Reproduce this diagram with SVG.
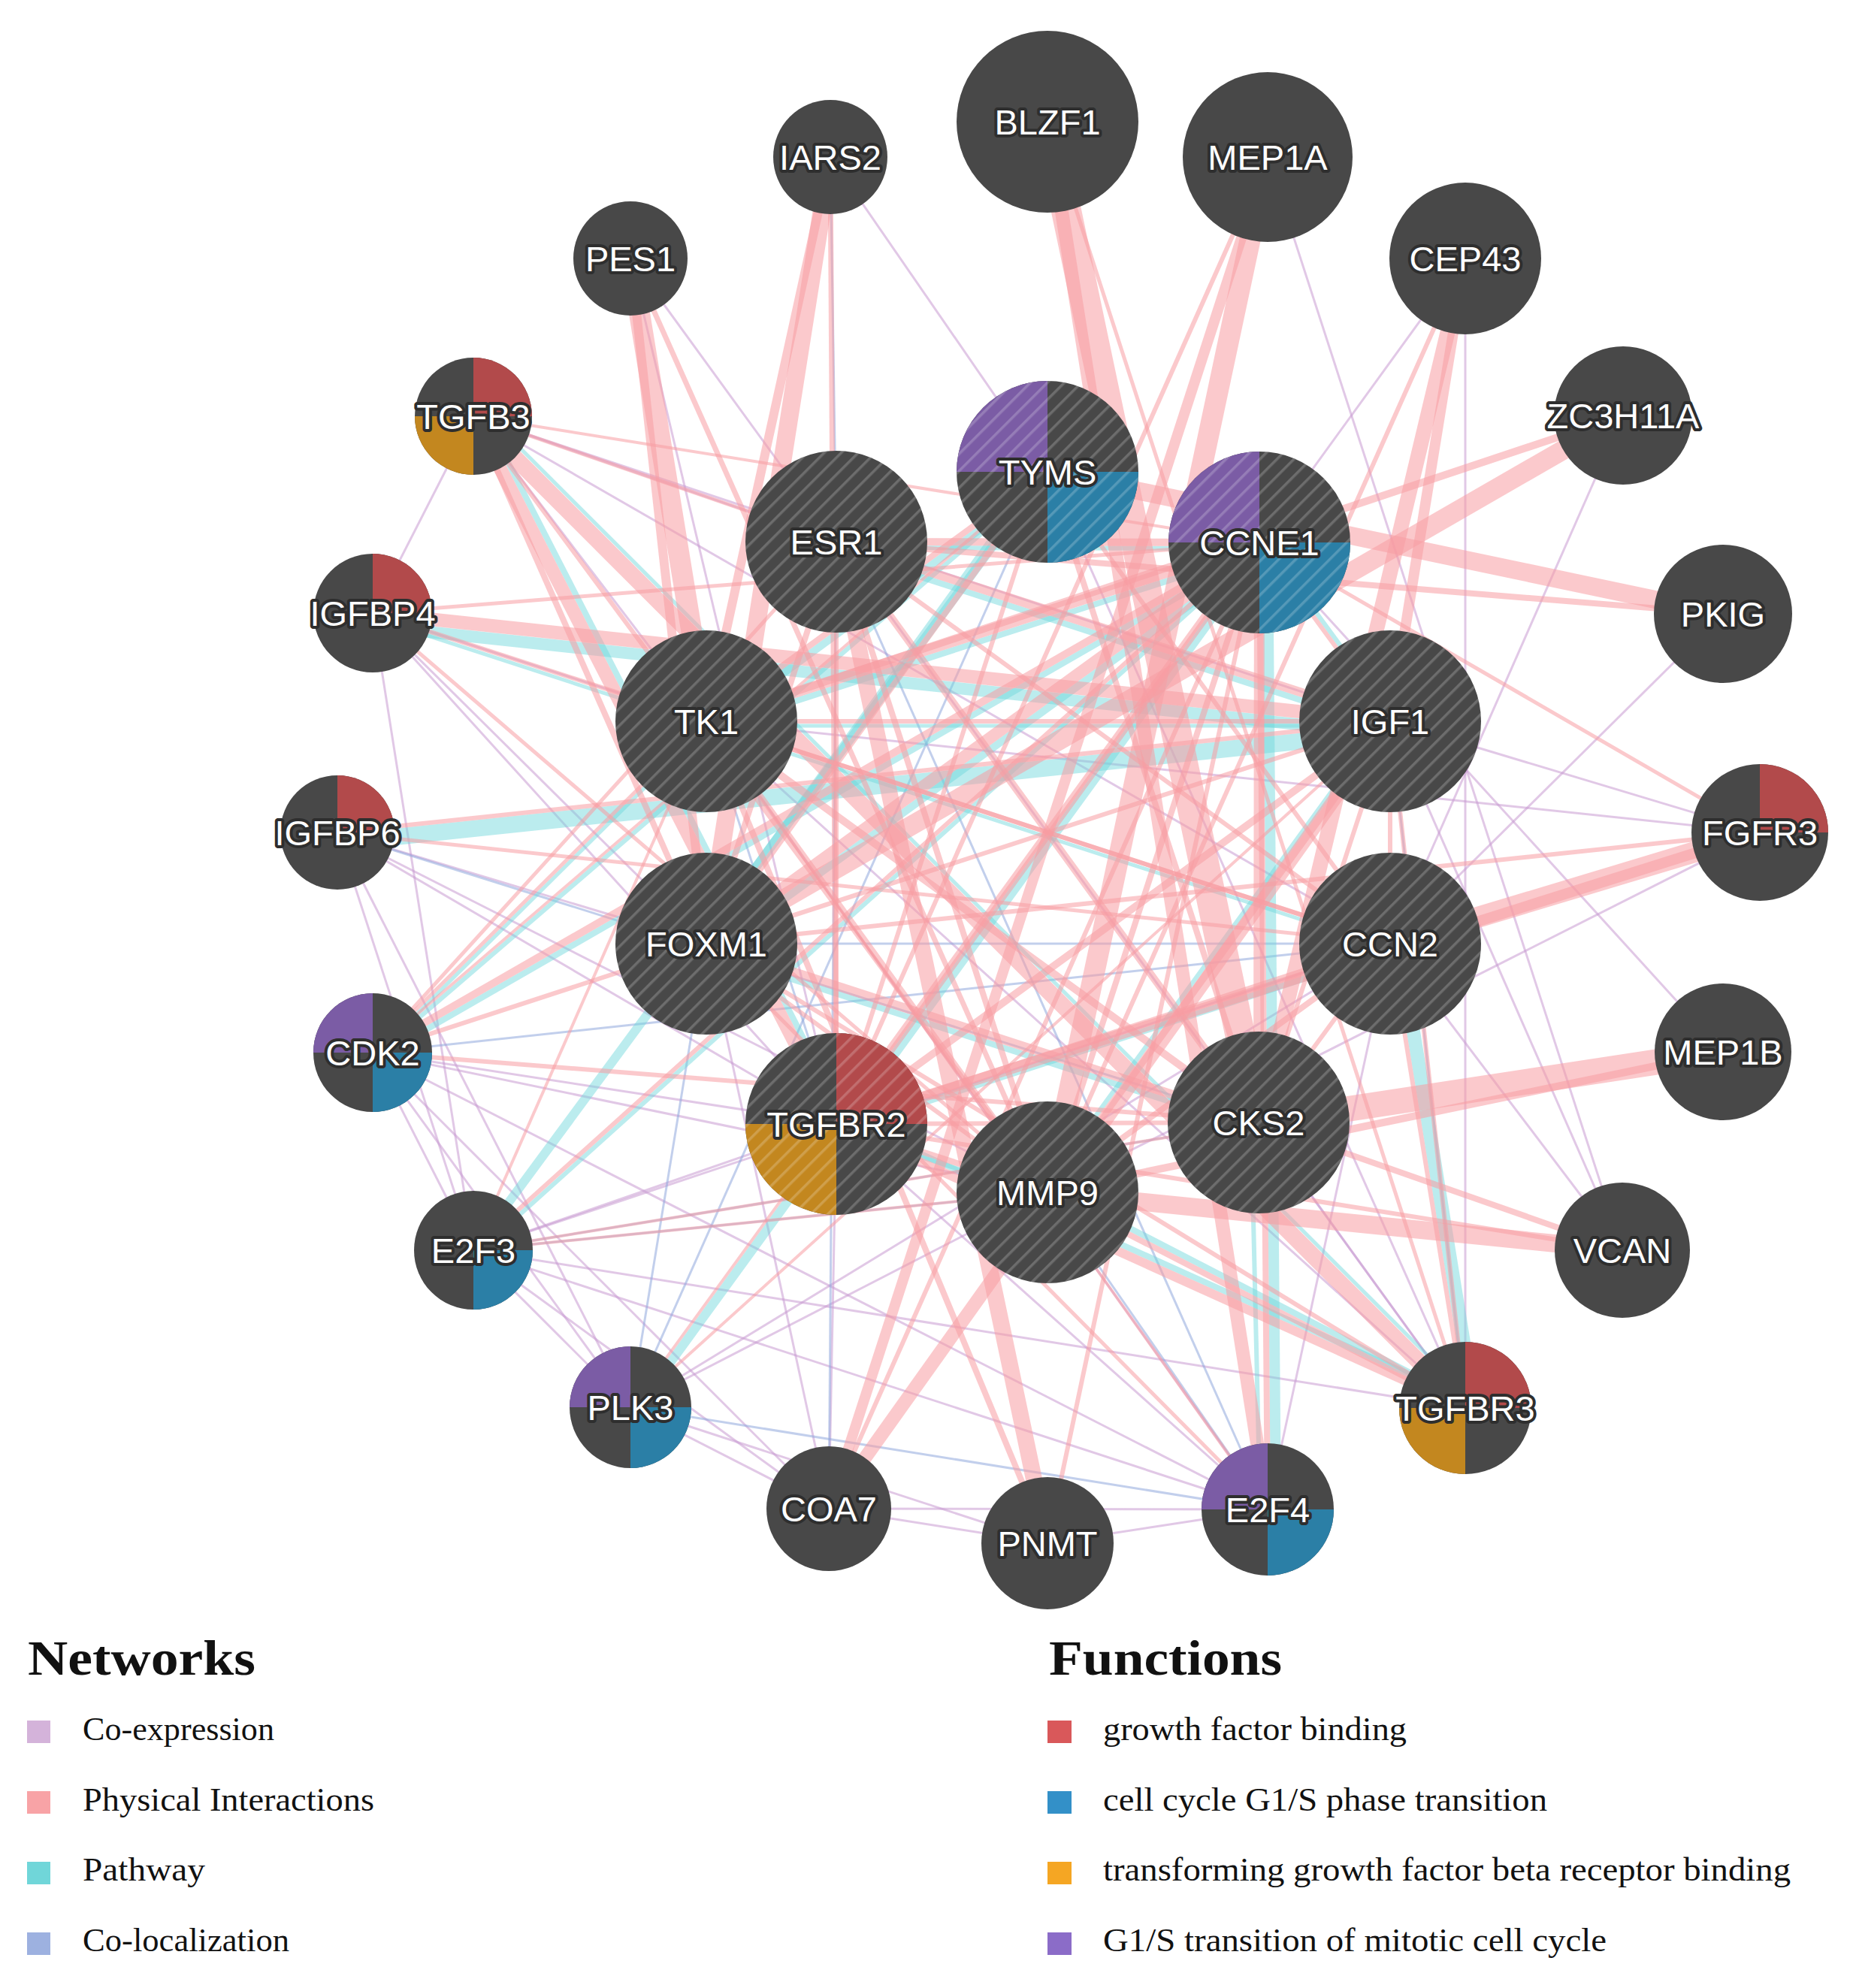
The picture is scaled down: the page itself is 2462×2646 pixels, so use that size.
<svg xmlns="http://www.w3.org/2000/svg" width="2462" height="2646" viewBox="0 0 2462 2646">
<defs>
<pattern id="hatch" patternUnits="userSpaceOnUse" width="16" height="16" patternTransform="rotate(45)">
<rect x="0" y="0" width="3.5" height="16" fill="#ffffff" fill-opacity="0.2"/>
</pattern>
<style>
.p{stroke:#f79ca3;stroke-opacity:0.55;fill:none}
.w{stroke:#6fd6db;stroke-opacity:0.47;fill:none}
.c{stroke:#c99bd2;stroke-opacity:0.55;stroke-width:3;fill:none}
.l{stroke:#8fa7dc;stroke-opacity:0.55;stroke-width:3;fill:none}
.n{fill:#484848}
.h{fill:url(#hatch)}
.pu{fill:#7b5ca5}.bl{fill:#2b7fa6}.rd{fill:#b24a4b}.gd{fill:#c3871f}
.lb{font-family:"Liberation Sans",Arial,Helvetica,sans-serif;font-size:47px;fill:#ffffff;stroke:#2e2e2e;stroke-width:8px;stroke-linejoin:round;paint-order:stroke;text-anchor:middle}
.hd{font-family:"Liberation Serif","Times New Roman",serif;font-weight:bold;font-size:66px;fill:#111111}
.it{font-family:"Liberation Serif","Times New Roman",serif;font-size:45px;fill:#111111}
</style>
</defs>
<rect x="0" y="0" width="2462" height="2646" fill="#ffffff"/>
<g id="connectors">
<g id="coexpression">
<line class="c" x1="1105" y1="209" x2="1394" y2="628"/>
<line class="c" x1="630" y1="554" x2="496" y2="816"/>
<line class="c" x1="630" y1="554" x2="1113" y2="721"/>
<line class="c" x1="630" y1="554" x2="940" y2="960"/>
<line class="c" x1="630" y1="554" x2="1850" y2="1256"/>
<line class="c" x1="630" y1="554" x2="1850" y2="960"/>
<line class="c" x1="496" y1="816" x2="940" y2="960"/>
<line class="c" x1="496" y1="816" x2="940" y2="1256"/>
<line class="c" x1="496" y1="816" x2="1113" y2="1496"/>
<line class="c" x1="496" y1="816" x2="630" y2="1664"/>
<line class="c" x1="449" y1="1108" x2="940" y2="1256"/>
<line class="c" x1="449" y1="1108" x2="1113" y2="1496"/>
<line class="c" x1="449" y1="1108" x2="1394" y2="1587"/>
<line class="c" x1="449" y1="1108" x2="630" y2="1664"/>
<line class="c" x1="449" y1="1108" x2="839" y2="1873"/>
<line class="c" x1="496" y1="1401" x2="630" y2="1664"/>
<line class="c" x1="496" y1="1401" x2="839" y2="1873"/>
<line class="c" x1="496" y1="1401" x2="1103" y2="2008"/>
<line class="c" x1="496" y1="1401" x2="1394" y2="1587"/>
<line class="c" x1="496" y1="1401" x2="1113" y2="1496"/>
<line class="c" x1="496" y1="1401" x2="1687" y2="2009"/>
<line class="c" x1="630" y1="1664" x2="839" y2="1873"/>
<line class="c" x1="630" y1="1664" x2="1113" y2="1496"/>
<line class="c" x1="630" y1="1664" x2="1850" y2="1256"/>
<line class="c" x1="630" y1="1664" x2="1687" y2="2009"/>
<line class="c" x1="630" y1="1664" x2="1103" y2="2008"/>
<line class="c" x1="839" y1="1873" x2="1103" y2="2008"/>
<line class="c" x1="839" y1="1873" x2="1394" y2="2054"/>
<line class="c" x1="839" y1="1873" x2="1394" y2="1587"/>
<line class="c" x1="839" y1="1873" x2="1850" y2="1256"/>
<line class="c" x1="1103" y1="2008" x2="1113" y2="1496"/>
<line class="c" x1="1103" y1="2008" x2="1394" y2="2054"/>
<line class="c" x1="1103" y1="2008" x2="940" y2="1256"/>
<line class="c" x1="1103" y1="2008" x2="1687" y2="2009"/>
<line class="c" x1="1394" y1="2054" x2="1687" y2="2009"/>
<line class="c" x1="1687" y1="2009" x2="940" y2="960"/>
<line class="c" x1="1687" y1="2009" x2="1850" y2="1256"/>
<line class="c" x1="1687" y1="2009" x2="1113" y2="1496"/>
<line class="c" x1="1950" y1="1874" x2="1675" y2="1494"/>
<line class="c" x1="1950" y1="1874" x2="1113" y2="721"/>
<line class="c" x1="1950" y1="1874" x2="940" y2="960"/>
<line class="c" x1="1950" y1="1874" x2="1394" y2="628"/>
<line class="c" x1="1950" y1="1874" x2="630" y2="1664"/>
<line class="c" x1="2159" y1="1664" x2="1850" y2="1256"/>
<line class="c" x1="2159" y1="1664" x2="1850" y2="960"/>
<line class="c" x1="2159" y1="1664" x2="1687" y2="209"/>
<line class="c" x1="2293" y1="1400" x2="1676" y2="722"/>
<line class="c" x1="2342" y1="1108" x2="1850" y2="960"/>
<line class="c" x1="2342" y1="1108" x2="940" y2="960"/>
<line class="c" x1="2342" y1="1108" x2="1394" y2="1587"/>
<line class="c" x1="2293" y1="817" x2="1850" y2="1256"/>
<line class="c" x1="1950" y1="344" x2="1950" y2="1874"/>
<line class="c" x1="1950" y1="344" x2="1676" y2="722"/>
<line class="c" x1="2160" y1="553" x2="1850" y2="1256"/>
<line class="c" x1="839" y1="344" x2="1113" y2="1496"/>
<line class="c" x1="839" y1="344" x2="1113" y2="721"/>
</g>
<g id="colocalization">
<line class="l" x1="1105" y1="209" x2="1113" y2="721"/>
<line class="l" x1="940" y1="960" x2="1113" y2="1496"/>
<line class="l" x1="1113" y1="721" x2="1103" y2="2008"/>
<line class="l" x1="940" y1="1256" x2="839" y2="1873"/>
<line class="l" x1="1394" y1="1587" x2="1687" y2="2009"/>
<line class="l" x1="1394" y1="628" x2="839" y2="1873"/>
<line class="l" x1="630" y1="1664" x2="1394" y2="1587"/>
<line class="l" x1="1113" y1="721" x2="1687" y2="2009"/>
<line class="l" x1="839" y1="1873" x2="1687" y2="2009"/>
<line class="l" x1="1675" y1="1494" x2="630" y2="1664"/>
<line class="l" x1="496" y1="1401" x2="1850" y2="1256"/>
<line class="l" x1="449" y1="1108" x2="1675" y2="1494"/>
<line class="l" x1="940" y1="1256" x2="1850" y2="1256"/>
<line class="l" x1="1850" y1="960" x2="1950" y2="1874"/>
</g>
<g id="pathway">
<line class="w" stroke-width="22" transform="translate(1.5,14)" x1="449" y1="1108" x2="1850" y2="960"/>
<line class="w" stroke-width="16" transform="translate(-1.8,17)" x1="496" y1="816" x2="1850" y2="960"/>
<line class="w" stroke-width="5" transform="translate(-1.9,5.7)" x1="496" y1="816" x2="1850" y2="1256"/>
<line class="w" stroke-width="8" transform="translate(11.6,-5.9)" x1="630" y1="554" x2="1113" y2="1496"/>
<line class="w" stroke-width="5" transform="translate(9.9,-9.9)" x1="630" y1="554" x2="1950" y2="1874"/>
<line class="w" stroke-width="18" transform="translate(11.8,-1.9)" x1="1950" y1="1874" x2="1850" y2="1256"/>
<line class="w" stroke-width="8" transform="translate(4.1,-9.1)" x1="1950" y1="1874" x2="1113" y2="1496"/>
<line class="w" stroke-width="8" transform="translate(3.7,-7.1)" x1="1950" y1="1874" x2="1394" y2="1587"/>
<line class="w" stroke-width="14" transform="translate(11,0)" x1="1687" y1="2009" x2="1676" y2="722"/>
<line class="w" stroke-width="6" transform="translate(-10,0)" x1="1687" y1="2009" x2="1675" y2="1494"/>
<line class="w" stroke-width="12" transform="translate(6.5,4.7)" x1="839" y1="1873" x2="1676" y2="722"/>
<line class="w" stroke-width="12" x1="630" y1="1664" x2="1394" y2="628"/>
<line class="w" stroke-width="6" transform="translate(4,4.5)" x1="630" y1="1664" x2="1676" y2="722"/>
<line class="w" stroke-width="8" transform="translate(4.5,7.8)" x1="496" y1="1401" x2="1676" y2="722"/>
<line class="w" stroke-width="6" transform="translate(3.3,3.8)" x1="496" y1="1401" x2="1394" y2="628"/>
<line class="w" stroke-width="5" transform="translate(3.5,3.5)" x1="496" y1="1401" x2="940" y2="960"/>
<line class="w" stroke-width="10" transform="translate(5.3,7.3)" x1="940" y1="960" x2="1394" y2="628"/>
<line class="w" stroke-width="8" transform="translate(3.4,10.5)" x1="940" y1="960" x2="1676" y2="722"/>
<line class="w" stroke-width="10" transform="translate(7.6,10.5)" x1="940" y1="1256" x2="1676" y2="722"/>
<line class="w" stroke-width="8" transform="translate(-3.1,9.5)" x1="940" y1="1256" x2="1675" y2="1494"/>
<line class="w" stroke-width="6" transform="translate(0,8)" x1="1113" y1="721" x2="1676" y2="722"/>
<line class="w" stroke-width="8" transform="translate(-3.1,9.5)" x1="1113" y1="721" x2="1850" y2="960"/>
<line class="w" stroke-width="6" transform="translate(4.8,-3.5)" x1="1850" y1="960" x2="1676" y2="722"/>
<line class="w" stroke-width="6" transform="translate(-6.5,-4.7)" x1="1850" y1="960" x2="1394" y2="1587"/>
<line class="w" stroke-width="8" transform="translate(2.8,8.6)" x1="1113" y1="1496" x2="1850" y2="1256"/>
<line class="w" stroke-width="6" transform="translate(-2.2,6.7)" x1="1113" y1="1496" x2="1394" y2="1587"/>
<line class="w" stroke-width="8" transform="translate(-6.5,-4.7)" x1="1394" y1="628" x2="940" y2="1256"/>
<line class="w" stroke-width="5" transform="translate(0,6)" x1="940" y1="960" x2="1850" y2="960"/>
</g>
<g id="physical">
<line class="p" stroke-width="40" x1="1394" y1="162" x2="1675" y2="1494"/>
<line class="p" stroke-width="18" x1="1394" y1="162" x2="1687" y2="2009"/>
<line class="p" stroke-width="5" x1="1394" y1="162" x2="1950" y2="1874"/>
<line class="p" stroke-width="28" x1="1687" y1="209" x2="1394" y2="1587"/>
<line class="p" stroke-width="14" x1="1687" y1="209" x2="1103" y2="2008"/>
<line class="p" stroke-width="6" x1="1687" y1="209" x2="1113" y2="1496"/>
<line class="p" stroke-width="24" x1="1105" y1="209" x2="940" y2="1256"/>
<line class="p" stroke-width="12" x1="1105" y1="209" x2="940" y2="960"/>
<line class="p" stroke-width="7" x1="1105" y1="209" x2="1113" y2="1496"/>
<line class="p" stroke-width="28" x1="839" y1="344" x2="940" y2="960"/>
<line class="p" stroke-width="12" x1="839" y1="344" x2="940" y2="1256"/>
<line class="p" stroke-width="7" x1="839" y1="344" x2="1394" y2="1587"/>
<line class="p" stroke-width="20" x1="1950" y1="344" x2="1675" y2="1494"/>
<line class="p" stroke-width="14" x1="1950" y1="344" x2="1850" y2="960"/>
<line class="p" stroke-width="6" x1="1950" y1="344" x2="1394" y2="1587"/>
<line class="p" stroke-width="26" x1="2160" y1="553" x2="940" y2="1256"/>
<line class="p" stroke-width="10" x1="2160" y1="553" x2="940" y2="960"/>
<line class="p" stroke-width="24" x1="2293" y1="817" x2="1394" y2="628"/>
<line class="p" stroke-width="8" x1="2293" y1="817" x2="1113" y2="721"/>
<line class="p" stroke-width="28" x1="2342" y1="1108" x2="1850" y2="1256"/>
<line class="p" stroke-width="14" x1="2342" y1="1108" x2="1113" y2="1496"/>
<line class="p" stroke-width="6" x1="2342" y1="1108" x2="940" y2="1256"/>
<line class="p" stroke-width="5" x1="2342" y1="1108" x2="1676" y2="722"/>
<line class="p" stroke-width="34" x1="2293" y1="1400" x2="1675" y2="1494"/>
<line class="p" stroke-width="10" x1="2293" y1="1400" x2="1394" y2="1587"/>
<line class="p" stroke-width="24" x1="2159" y1="1664" x2="1394" y2="1587"/>
<line class="p" stroke-width="8" x1="2159" y1="1664" x2="1675" y2="1494"/>
<line class="p" stroke-width="6" x1="2159" y1="1664" x2="1113" y2="1496"/>
<line class="p" stroke-width="22" x1="630" y1="554" x2="1950" y2="1874"/>
<line class="p" stroke-width="18" x1="630" y1="554" x2="1113" y2="1496"/>
<line class="p" stroke-width="8" x1="630" y1="554" x2="940" y2="1256"/>
<line class="p" stroke-width="6" x1="630" y1="554" x2="1394" y2="1587"/>
<line class="p" stroke-width="5" x1="630" y1="554" x2="1113" y2="721"/>
<line class="p" stroke-width="4" x1="630" y1="554" x2="1676" y2="722"/>
<line class="p" stroke-width="18" x1="496" y1="816" x2="1850" y2="960"/>
<line class="p" stroke-width="6" x1="496" y1="816" x2="1850" y2="1256"/>
<line class="p" stroke-width="5" x1="496" y1="816" x2="1676" y2="722"/>
<line class="p" stroke-width="5" x1="496" y1="816" x2="1394" y2="1587"/>
<line class="p" stroke-width="6" x1="449" y1="1108" x2="1850" y2="960"/>
<line class="p" stroke-width="5" x1="449" y1="1108" x2="1850" y2="1256"/>
<line class="p" stroke-width="10" x1="496" y1="1401" x2="1676" y2="722"/>
<line class="p" stroke-width="6" x1="496" y1="1401" x2="1675" y2="1494"/>
<line class="p" stroke-width="5" x1="496" y1="1401" x2="940" y2="960"/>
<line class="p" stroke-width="6" x1="496" y1="1401" x2="940" y2="1256"/>
<line class="p" stroke-width="5" x1="496" y1="1401" x2="1113" y2="721"/>
<line class="p" stroke-width="4" x1="496" y1="1401" x2="1394" y2="628"/>
<line class="p" stroke-width="6" x1="630" y1="1664" x2="1676" y2="722"/>
<line class="p" stroke-width="4" x1="630" y1="1664" x2="940" y2="960"/>
<line class="p" stroke-width="4" x1="630" y1="1664" x2="1675" y2="1494"/>
<line class="p" stroke-width="4" x1="630" y1="1664" x2="1394" y2="1587"/>
<line class="p" stroke-width="4" x1="839" y1="1873" x2="1676" y2="722"/>
<line class="p" stroke-width="4" x1="839" y1="1873" x2="1850" y2="960"/>
<line class="p" stroke-width="18" x1="1103" y1="2008" x2="1850" y2="960"/>
<line class="p" stroke-width="6" x1="1103" y1="2008" x2="1676" y2="722"/>
<line class="p" stroke-width="22" x1="1394" y1="2054" x2="1113" y2="721"/>
<line class="p" stroke-width="8" x1="1394" y1="2054" x2="940" y2="960"/>
<line class="p" stroke-width="6" x1="1394" y1="2054" x2="1676" y2="722"/>
<line class="p" stroke-width="8" x1="1687" y1="2009" x2="1676" y2="722"/>
<line class="p" stroke-width="5" x1="1687" y1="2009" x2="940" y2="1256"/>
<line class="p" stroke-width="4" x1="1687" y1="2009" x2="940" y2="960"/>
<line class="p" stroke-width="12" x1="1950" y1="1874" x2="1113" y2="1496"/>
<line class="p" stroke-width="8" x1="1950" y1="1874" x2="1394" y2="1587"/>
<line class="p" stroke-width="6" x1="1950" y1="1874" x2="940" y2="1256"/>
<line class="p" stroke-width="6" x1="1950" y1="1874" x2="1850" y2="960"/>
<line class="p" stroke-width="6" x1="1950" y1="1874" x2="1850" y2="1256"/>
<line class="p" stroke-width="14" x1="940" y1="960" x2="1676" y2="722"/>
<line class="p" stroke-width="10" x1="940" y1="960" x2="1675" y2="1494"/>
<line class="p" stroke-width="8" x1="940" y1="960" x2="1394" y2="628"/>
<line class="p" stroke-width="8" x1="940" y1="960" x2="1394" y2="1587"/>
<line class="p" stroke-width="6" x1="940" y1="960" x2="1850" y2="960"/>
<line class="p" stroke-width="6" x1="940" y1="960" x2="1850" y2="1256"/>
<line class="p" stroke-width="16" x1="940" y1="1256" x2="1676" y2="722"/>
<line class="p" stroke-width="12" x1="940" y1="1256" x2="1675" y2="1494"/>
<line class="p" stroke-width="8" x1="940" y1="1256" x2="1394" y2="628"/>
<line class="p" stroke-width="8" x1="940" y1="1256" x2="1113" y2="721"/>
<line class="p" stroke-width="6" x1="940" y1="1256" x2="1850" y2="960"/>
<line class="p" stroke-width="6" x1="940" y1="1256" x2="1394" y2="1587"/>
<line class="p" stroke-width="10" x1="1113" y1="721" x2="1676" y2="722"/>
<line class="p" stroke-width="12" x1="1113" y1="721" x2="1850" y2="960"/>
<line class="p" stroke-width="10" x1="1113" y1="721" x2="1675" y2="1494"/>
<line class="p" stroke-width="8" x1="1113" y1="721" x2="1394" y2="1587"/>
<line class="p" stroke-width="6" x1="1113" y1="721" x2="1850" y2="1256"/>
<line class="p" stroke-width="6" x1="1113" y1="721" x2="1113" y2="1496"/>
<line class="p" stroke-width="8" x1="1394" y1="628" x2="1675" y2="1494"/>
<line class="p" stroke-width="6" x1="1394" y1="628" x2="1850" y2="1256"/>
<line class="p" stroke-width="6" x1="1394" y1="628" x2="1113" y2="1496"/>
<line class="p" stroke-width="14" x1="1676" y1="722" x2="1675" y2="1494"/>
<line class="p" stroke-width="12" x1="1676" y1="722" x2="1113" y2="1496"/>
<line class="p" stroke-width="8" x1="1676" y1="722" x2="1394" y2="1587"/>
<line class="p" stroke-width="6" x1="1676" y1="722" x2="1850" y2="960"/>
<line class="p" stroke-width="10" x1="1850" y1="960" x2="1394" y2="1587"/>
<line class="p" stroke-width="10" x1="1850" y1="960" x2="1113" y2="1496"/>
<line class="p" stroke-width="6" x1="1850" y1="960" x2="1675" y2="1494"/>
<line class="p" stroke-width="6" x1="1850" y1="960" x2="1850" y2="1256"/>
<line class="p" stroke-width="8" x1="1850" y1="1256" x2="1394" y2="1587"/>
<line class="p" stroke-width="10" x1="1850" y1="1256" x2="1113" y2="1496"/>
<line class="p" stroke-width="6" x1="1850" y1="1256" x2="1675" y2="1494"/>
<line class="p" stroke-width="8" x1="1113" y1="1496" x2="1394" y2="1587"/>
<line class="p" stroke-width="6" x1="1113" y1="1496" x2="1675" y2="1494"/>
</g>
</g>
<g id="nodes">
<g id="node-BLZF1"><circle class="n" cx="1394" cy="162" r="121"/><text class="lb" x="1394" y="179">BLZF1</text></g>
<g id="node-MEP1A"><circle class="n" cx="1687" cy="209" r="113"/><text class="lb" x="1687" y="226">MEP1A</text></g>
<g id="node-CEP43"><circle class="n" cx="1950" cy="344" r="101"/><text class="lb" x="1950" y="361">CEP43</text></g>
<g id="node-ZC3H11A"><circle class="n" cx="2160" cy="553" r="92"/><text class="lb" x="2160" y="570">ZC3H11A</text></g>
<g id="node-PKIG"><circle class="n" cx="2293" cy="817" r="92"/><text class="lb" x="2293" y="834">PKIG</text></g>
<g id="node-FGFR3"><circle class="n" cx="2342" cy="1108" r="91"/><path class="rd" d="M2342 1108 V1017 A91 91 0 0 1 2433 1108 Z"/><text class="lb" x="2342" y="1125">FGFR3</text></g>
<g id="node-MEP1B"><circle class="n" cx="2293" cy="1400" r="91"/><text class="lb" x="2293" y="1417">MEP1B</text></g>
<g id="node-VCAN"><circle class="n" cx="2159" cy="1664" r="90"/><text class="lb" x="2159" y="1681">VCAN</text></g>
<g id="node-TGFBR3"><circle class="n" cx="1950" cy="1874" r="88"/><path class="rd" d="M1950 1874 V1786 A88 88 0 0 1 2038 1874 Z"/><path class="gd" d="M1950 1874 V1962 A88 88 0 0 1 1862 1874 Z"/><text class="lb" x="1950" y="1891">TGFBR3</text></g>
<g id="node-E2F4"><circle class="n" cx="1687" cy="2009" r="88"/><path class="pu" d="M1687 2009 H1599 A88 88 0 0 1 1687 1921 Z"/><path class="bl" d="M1687 2009 H1775 A88 88 0 0 1 1687 2097 Z"/><text class="lb" x="1687" y="2026">E2F4</text></g>
<g id="node-PNMT"><circle class="n" cx="1394" cy="2054" r="88"/><text class="lb" x="1394" y="2071">PNMT</text></g>
<g id="node-COA7"><circle class="n" cx="1103" cy="2008" r="83"/><text class="lb" x="1103" y="2025">COA7</text></g>
<g id="node-PLK3"><circle class="n" cx="839" cy="1873" r="81"/><path class="pu" d="M839 1873 H758 A81 81 0 0 1 839 1792 Z"/><path class="bl" d="M839 1873 H920 A81 81 0 0 1 839 1954 Z"/><text class="lb" x="839" y="1890">PLK3</text></g>
<g id="node-E2F3"><circle class="n" cx="630" cy="1664" r="79"/><path class="bl" d="M630 1664 H709 A79 79 0 0 1 630 1743 Z"/><text class="lb" x="630" y="1681">E2F3</text></g>
<g id="node-CDK2"><circle class="n" cx="496" cy="1401" r="79"/><path class="pu" d="M496 1401 H417 A79 79 0 0 1 496 1322 Z"/><path class="bl" d="M496 1401 H575 A79 79 0 0 1 496 1480 Z"/><text class="lb" x="496" y="1418">CDK2</text></g>
<g id="node-IGFBP6"><circle class="n" cx="449" cy="1108" r="76"/><path class="rd" d="M449 1108 V1032 A76 76 0 0 1 525 1108 Z"/><text class="lb" x="449" y="1125">IGFBP6</text></g>
<g id="node-IGFBP4"><circle class="n" cx="496" cy="816" r="79"/><path class="rd" d="M496 816 V737 A79 79 0 0 1 575 816 Z"/><text class="lb" x="496" y="833">IGFBP4</text></g>
<g id="node-TGFB3"><circle class="n" cx="630" cy="554" r="78"/><path class="rd" d="M630 554 V476 A78 78 0 0 1 708 554 Z"/><path class="gd" d="M630 554 V632 A78 78 0 0 1 552 554 Z"/><text class="lb" x="630" y="571">TGFB3</text></g>
<g id="node-PES1"><circle class="n" cx="839" cy="344" r="76"/><text class="lb" x="839" y="361">PES1</text></g>
<g id="node-IARS2"><circle class="n" cx="1105" cy="209" r="76"/><text class="lb" x="1105" y="226">IARS2</text></g>
<g id="node-TYMS"><circle class="n" cx="1394" cy="628" r="121"/><path class="pu" d="M1394 628 H1273 A121 121 0 0 1 1394 507 Z"/><path class="bl" d="M1394 628 H1515 A121 121 0 0 1 1394 749 Z"/><circle class="h" cx="1394" cy="628" r="121"/><text class="lb" x="1394" y="645">TYMS</text></g>
<g id="node-ESR1"><circle class="n" cx="1113" cy="721" r="121"/><circle class="h" cx="1113" cy="721" r="121"/><text class="lb" x="1113" y="738">ESR1</text></g>
<g id="node-CCNE1"><circle class="n" cx="1676" cy="722" r="121"/><path class="pu" d="M1676 722 H1555 A121 121 0 0 1 1676 601 Z"/><path class="bl" d="M1676 722 H1797 A121 121 0 0 1 1676 843 Z"/><circle class="h" cx="1676" cy="722" r="121"/><text class="lb" x="1676" y="739">CCNE1</text></g>
<g id="node-TK1"><circle class="n" cx="940" cy="960" r="121"/><circle class="h" cx="940" cy="960" r="121"/><text class="lb" x="940" y="977">TK1</text></g>
<g id="node-IGF1"><circle class="n" cx="1850" cy="960" r="121"/><circle class="h" cx="1850" cy="960" r="121"/><text class="lb" x="1850" y="977">IGF1</text></g>
<g id="node-FOXM1"><circle class="n" cx="940" cy="1256" r="121"/><circle class="h" cx="940" cy="1256" r="121"/><text class="lb" x="940" y="1273">FOXM1</text></g>
<g id="node-CCN2"><circle class="n" cx="1850" cy="1256" r="121"/><circle class="h" cx="1850" cy="1256" r="121"/><text class="lb" x="1850" y="1273">CCN2</text></g>
<g id="node-TGFBR2"><circle class="n" cx="1113" cy="1496" r="121"/><path class="rd" d="M1113 1496 V1375 A121 121 0 0 1 1234 1496 Z"/><path class="gd" d="M1113 1496 V1617 A121 121 0 0 1 992 1496 Z"/><circle class="h" cx="1113" cy="1496" r="121"/><text class="lb" x="1113" y="1513">TGFBR2</text></g>
<g id="node-CKS2"><circle class="n" cx="1675" cy="1494" r="121"/><circle class="h" cx="1675" cy="1494" r="121"/><text class="lb" x="1675" y="1511">CKS2</text></g>
<g id="node-MMP9"><circle class="n" cx="1394" cy="1587" r="121"/><circle class="h" cx="1394" cy="1587" r="121"/><text class="lb" x="1394" y="1604">MMP9</text></g>
</g>
<g id="legend-networks">
<text class="hd" x="37" y="2229" textLength="303" lengthAdjust="spacingAndGlyphs">Networks</text>
<rect x="36" y="2290" width="31" height="30" fill="#d4b3da"/>
<text class="it" x="110" y="2316" textLength="255" lengthAdjust="spacingAndGlyphs">Co-expression</text>
<rect x="36" y="2384" width="31" height="30" fill="#f8a3a6"/>
<text class="it" x="110" y="2410" textLength="388" lengthAdjust="spacingAndGlyphs">Physical Interactions</text>
<rect x="36" y="2478" width="31" height="30" fill="#70d6d9"/>
<text class="it" x="110" y="2503" textLength="163" lengthAdjust="spacingAndGlyphs">Pathway</text>
<rect x="36" y="2572" width="31" height="30" fill="#9db1e0"/>
<text class="it" x="110" y="2597" textLength="275" lengthAdjust="spacingAndGlyphs">Co-localization</text>
</g>
<g id="legend-functions">
<text class="hd" x="1396" y="2229" textLength="310" lengthAdjust="spacingAndGlyphs">Functions</text>
<rect x="1394" y="2290" width="32" height="30" fill="#d9585a"/>
<text class="it" x="1468" y="2316" textLength="404" lengthAdjust="spacingAndGlyphs">growth factor binding</text>
<rect x="1394" y="2384" width="32" height="30" fill="#3390c8"/>
<text class="it" x="1468" y="2410" textLength="591" lengthAdjust="spacingAndGlyphs">cell cycle G1/S phase transition</text>
<rect x="1394" y="2478" width="32" height="30" fill="#f5a623"/>
<text class="it" x="1468" y="2503" textLength="915" lengthAdjust="spacingAndGlyphs">transforming growth factor beta receptor binding</text>
<rect x="1394" y="2572" width="32" height="30" fill="#8b6cc8"/>
<text class="it" x="1468" y="2597" textLength="670" lengthAdjust="spacingAndGlyphs">G1/S transition of mitotic cell cycle</text>
</g>
</svg>
